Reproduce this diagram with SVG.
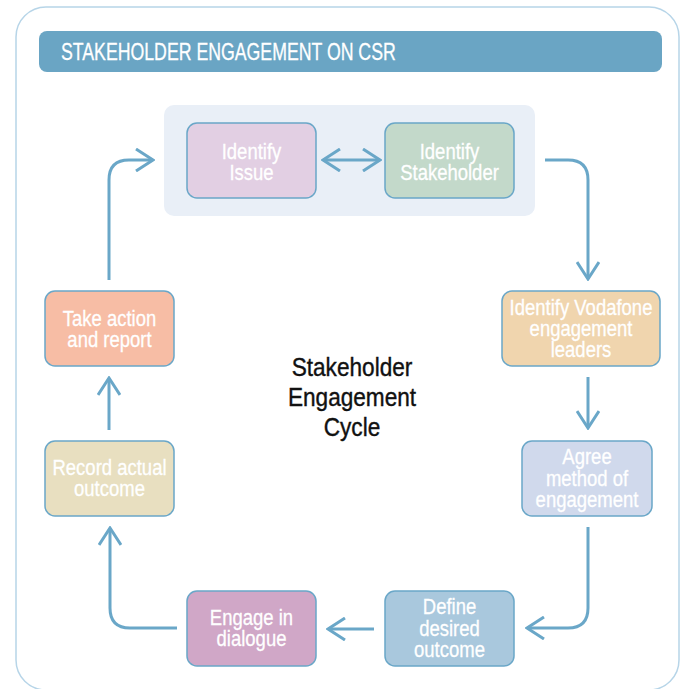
<svg xmlns="http://www.w3.org/2000/svg" width="684" height="689" viewBox="0 0 684 689">
<defs>
<style>
.frame{fill:#ffffff;stroke:#b7d5e8;stroke-width:1.5}
.bar{fill:#6aa5c4}
.node{stroke:#6aa7c8;stroke-width:1.5}
.lbl{font-family:"Liberation Sans",Arial,sans-serif;font-size:21.5px;fill:#ffffff;stroke:#ffffff;stroke-width:0.3;text-anchor:middle}
.title{font-family:"Liberation Sans",Arial,sans-serif;font-size:23px;fill:#ffffff;stroke:#ffffff;stroke-width:0.3}
.center{font-family:"Liberation Sans",Arial,sans-serif;font-size:26px;fill:#111111;stroke:#111111;stroke-width:0.4;text-anchor:middle}
.conn{fill:none;stroke:#6aa7c8;stroke-width:3}
</style>
<marker id="ah" viewBox="0 0 20 24" refX="18" refY="12" markerWidth="20" markerHeight="24" markerUnits="userSpaceOnUse" orient="auto-start-reverse">
<path d="M1,1 L18,12 L1,23" fill="none" stroke="#6aa7c8" stroke-width="3"/>
</marker>
</defs>
<rect class="frame" x="16" y="7" width="663" height="683" rx="30"/>
<g id="title">
<rect class="bar" x="39" y="31" width="623" height="41" rx="8"/>
<text class="title" transform="translate(61,60) scale(0.77,1)">STAKEHOLDER ENGAGEMENT ON CSR</text>
</g>
<g id="identify-group">
<rect x="164" y="105" width="371" height="111" rx="10" fill="#e9eff7"/>
</g>
<g id="identify-issue">
<rect class="node" x="187" y="123" width="129" height="75" rx="10" fill="#e2cfe3"/>
<text class="lbl" transform="translate(251.5,159) scale(0.86,1)">Identify</text>
<text class="lbl" transform="translate(251.5,180) scale(0.86,1)">Issue</text>
</g>
<g id="identify-stakeholder">
<rect class="node" x="385" y="123" width="129" height="75" rx="10" fill="#c3d9ca"/>
<text class="lbl" transform="translate(449.5,159) scale(0.86,1)">Identify</text>
<text class="lbl" transform="translate(449.5,180) scale(0.86,1)">Stakeholder</text>
</g>
<g id="identify-leaders">
<rect class="node" x="502" y="291" width="158" height="75" rx="10" fill="#f0d5ae"/>
<text class="lbl" transform="translate(581,315) scale(0.86,1)">Identify Vodafone</text>
<text class="lbl" transform="translate(581,336) scale(0.86,1)">engagement</text>
<text class="lbl" transform="translate(581,357) scale(0.86,1)">leaders</text>
</g>
<g id="agree-method">
<rect class="node" x="522" y="441" width="130" height="75" rx="10" fill="#d0d9ec"/>
<text class="lbl" transform="translate(587,464) scale(0.86,1)">Agree</text>
<text class="lbl" transform="translate(587,486) scale(0.86,1)">method of</text>
<text class="lbl" transform="translate(587,507) scale(0.86,1)">engagement</text>
</g>
<g id="define-outcome">
<rect class="node" x="385" y="591" width="129" height="75" rx="10" fill="#a9c8dd"/>
<text class="lbl" transform="translate(449.5,614) scale(0.86,1)">Define</text>
<text class="lbl" transform="translate(449.5,636) scale(0.86,1)">desired</text>
<text class="lbl" transform="translate(449.5,657) scale(0.86,1)">outcome</text>
</g>
<g id="engage-dialogue">
<rect class="node" x="187" y="591" width="129" height="75" rx="10" fill="#d0a7c7"/>
<text class="lbl" transform="translate(251.5,625) scale(0.86,1)">Engage in</text>
<text class="lbl" transform="translate(251.5,646) scale(0.86,1)">dialogue</text>
</g>
<g id="record-outcome">
<rect class="node" x="45" y="441" width="129" height="75" rx="10" fill="#e8dfc0"/>
<text class="lbl" transform="translate(109.5,475) scale(0.86,1)">Record actual</text>
<text class="lbl" transform="translate(109.5,496) scale(0.86,1)">outcome</text>
</g>
<g id="take-action">
<rect class="node" x="45" y="291" width="129" height="75" rx="10" fill="#f7bda5"/>
<text class="lbl" transform="translate(109.5,326) scale(0.86,1)">Take action</text>
<text class="lbl" transform="translate(109.5,347) scale(0.86,1)">and report</text>
</g>
<g id="center-label">
<text class="center" transform="translate(352,376) scale(0.87,1)">Stakeholder</text>
<text class="center" transform="translate(352,406) scale(0.87,1)">Engagement</text>
<text class="center" transform="translate(352,436) scale(0.87,1)">Cycle</text>
</g>
<g id="connectors">
<path class="conn" d="M323,160 L380,160" marker-start="url(#ah)" marker-end="url(#ah)"/>
<path class="conn" d="M545,160 L568,160 Q588,160 588,180 L588,279" marker-end="url(#ah)"/>
<path class="conn" d="M588,377 L588,428" marker-end="url(#ah)"/>
<path class="conn" d="M588,527 L588,608 Q588,628 568,628 L527,628" marker-end="url(#ah)"/>
<path class="conn" d="M374,629 L328,629" marker-end="url(#ah)"/>
<path class="conn" d="M177,628 L130,628 Q110,628 110,608 L110,528" marker-end="url(#ah)"/>
<path class="conn" d="M109,430 L109,378" marker-end="url(#ah)"/>
<path class="conn" d="M109,280 L109,180 Q109,160 129,160 L153,160" marker-end="url(#ah)"/>
</g>
</svg>
